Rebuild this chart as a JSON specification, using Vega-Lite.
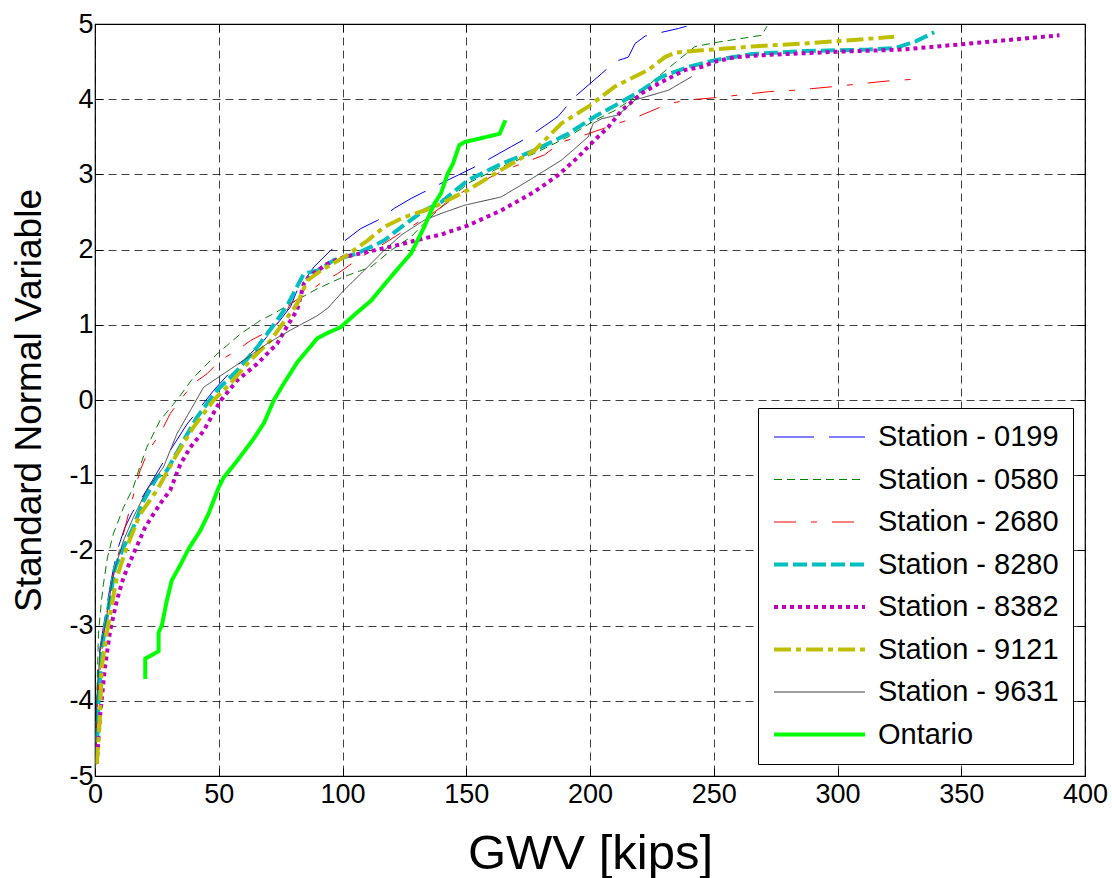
{
"$schema": "https://vega.github.io/schema/vega-lite/v6.json",
"width": 990, "height": 752,
"autosize": "none",
"padding": {"left": 95, "top": 24, "right": 27, "bottom": 102},
"background": "white",
"config": {
  "font": "Liberation Sans",
  "view": {"stroke": "black", "strokeWidth": 1.2},
  "legend": {"orient": "bottom-right", "offset": 12, "padding": 14, "strokeColor": "black", "fillColor": "white", "labelFontSize": 29, "labelFont": "Liberation Sans", "labelColor": "black", "labelLimit": 400, "symbolType": "stroke", "symbolSize": 8281, "clipHeight": 30, "rowPadding": 12.5, "labelOffset": 11, "cornerRadius": 0}
},
"data": {"values": [
{"s":"Station - 0199","x":0.3,"y":-4.85},{"s":"Station - 0199","x":0.8,"y":-4.0},{"s":"Station - 0199","x":2,"y":-3.3},{"s":"Station - 0199","x":4,"y":-2.9},{"s":"Station - 0199","x":6.5,"y":-2.4},{"s":"Station - 0199","x":9,"y":-2.0},{"s":"Station - 0199","x":12,"y":-1.7},{"s":"Station - 0199","x":15,"y":-1.5},{"s":"Station - 0199","x":18.2,"y":-1.34},{"s":"Station - 0199","x":22.3,"y":-1.12},{"s":"Station - 0199","x":30.4,"y":-0.67},{"s":"Station - 0199","x":37.2,"y":-0.32},{"s":"Station - 0199","x":43,"y":-0.08},{"s":"Station - 0199","x":48,"y":0.13},{"s":"Station - 0199","x":56,"y":0.42},{"s":"Station - 0199","x":60.1,"y":0.53},{"s":"Station - 0199","x":68.2,"y":0.79},{"s":"Station - 0199","x":73.6,"y":1.01},{"s":"Station - 0199","x":79,"y":1.24},{"s":"Station - 0199","x":81.7,"y":1.46},{"s":"Station - 0199","x":88.5,"y":1.77},{"s":"Station - 0199","x":95.2,"y":1.99},{"s":"Station - 0199","x":101,"y":2.12},{"s":"Station - 0199","x":107.4,"y":2.28},{"s":"Station - 0199","x":114.2,"y":2.39},{"s":"Station - 0199","x":121,"y":2.55},{"s":"Station - 0199","x":127.7,"y":2.68},{"s":"Station - 0199","x":139.8,"y":2.88},{"s":"Station - 0199","x":147.9,"y":3.01},{"s":"Station - 0199","x":154.7,"y":3.12},{"s":"Station - 0199","x":168.2,"y":3.37},{"s":"Station - 0199","x":175.3,"y":3.5},{"s":"Station - 0199","x":187.1,"y":3.77},{"s":"Station - 0199","x":193.8,"y":4.03},{"s":"Station - 0199","x":204.7,"y":4.34},{"s":"Station - 0199","x":210.1,"y":4.5},{"s":"Station - 0199","x":215.5,"y":4.56},{"s":"Station - 0199","x":218.2,"y":4.74},{"s":"Station - 0199","x":222.3,"y":4.84},{"s":"Station - 0199","x":235.7,"y":4.94},{"s":"Station - 0199","x":239,"y":4.97},
{"s":"Station - 0580","x":0.2,"y":-4.9},{"s":"Station - 0580","x":0.7,"y":-4.0},{"s":"Station - 0580","x":1.4,"y":-3.11},{"s":"Station - 0580","x":2.5,"y":-2.7},{"s":"Station - 0580","x":3.4,"y":-2.45},{"s":"Station - 0580","x":5,"y":-2.1},{"s":"Station - 0580","x":7.4,"y":-1.78},{"s":"Station - 0580","x":11.5,"y":-1.43},{"s":"Station - 0580","x":15.5,"y":-1.16},{"s":"Station - 0580","x":18,"y":-0.9},{"s":"Station - 0580","x":20.9,"y":-0.63},{"s":"Station - 0580","x":26.3,"y":-0.27},{"s":"Station - 0580","x":33.1,"y":0.0},{"s":"Station - 0580","x":39.8,"y":0.3},{"s":"Station - 0580","x":49.3,"y":0.61},{"s":"Station - 0580","x":58.8,"y":0.88},{"s":"Station - 0580","x":66.9,"y":1.06},{"s":"Station - 0580","x":72.3,"y":1.15},{"s":"Station - 0580","x":80,"y":1.3},{"s":"Station - 0580","x":89.8,"y":1.48},{"s":"Station - 0580","x":100.6,"y":1.64},{"s":"Station - 0580","x":111.5,"y":1.77},{"s":"Station - 0580","x":119.6,"y":1.99},{"s":"Station - 0580","x":127.7,"y":2.17},{"s":"Station - 0580","x":133,"y":2.35},{"s":"Station - 0580","x":141,"y":2.6},{"s":"Station - 0580","x":150.6,"y":2.88},{"s":"Station - 0580","x":164.1,"y":3.1},{"s":"Station - 0580","x":177.6,"y":3.28},{"s":"Station - 0580","x":191.2,"y":3.5},{"s":"Station - 0580","x":202,"y":3.72},{"s":"Station - 0580","x":210.1,"y":3.85},{"s":"Station - 0580","x":218.2,"y":4.03},{"s":"Station - 0580","x":229,"y":4.34},{"s":"Station - 0580","x":235.7,"y":4.52},{"s":"Station - 0580","x":242.4,"y":4.7},{"s":"Station - 0580","x":251.9,"y":4.76},{"s":"Station - 0580","x":269.4,"y":4.85},{"s":"Station - 0580","x":271.5,"y":4.97},
{"s":"Station - 2680","x":0.3,"y":-4.85},{"s":"Station - 2680","x":1,"y":-4.0},{"s":"Station - 2680","x":2.5,"y":-3.4},{"s":"Station - 2680","x":4,"y":-3.0},{"s":"Station - 2680","x":6.1,"y":-2.54},{"s":"Station - 2680","x":10.1,"y":-1.96},{"s":"Station - 2680","x":14.2,"y":-1.43},{"s":"Station - 2680","x":18.2,"y":-0.94},{"s":"Station - 2680","x":21.6,"y":-0.67},{"s":"Station - 2680","x":26.3,"y":-0.45},{"s":"Station - 2680","x":30.4,"y":-0.18},{"s":"Station - 2680","x":34.4,"y":0.0},{"s":"Station - 2680","x":39.8,"y":0.22},{"s":"Station - 2680","x":45.3,"y":0.35},{"s":"Station - 2680","x":50.7,"y":0.53},{"s":"Station - 2680","x":57.4,"y":0.66},{"s":"Station - 2680","x":62.8,"y":0.79},{"s":"Station - 2680","x":70.9,"y":0.93},{"s":"Station - 2680","x":76,"y":1.1},{"s":"Station - 2680","x":79,"y":1.28},{"s":"Station - 2680","x":84.4,"y":1.39},{"s":"Station - 2680","x":91,"y":1.55},{"s":"Station - 2680","x":98,"y":1.68},{"s":"Station - 2680","x":107.4,"y":1.9},{"s":"Station - 2680","x":116.8,"y":2.08},{"s":"Station - 2680","x":124.9,"y":2.25},{"s":"Station - 2680","x":135,"y":2.45},{"s":"Station - 2680","x":150,"y":2.8},{"s":"Station - 2680","x":165,"y":3.05},{"s":"Station - 2680","x":181.6,"y":3.26},{"s":"Station - 2680","x":188.5,"y":3.43},{"s":"Station - 2680","x":199.3,"y":3.54},{"s":"Station - 2680","x":211.4,"y":3.68},{"s":"Station - 2680","x":219.5,"y":3.77},{"s":"Station - 2680","x":231.7,"y":3.94},{"s":"Station - 2680","x":239.8,"y":3.99},{"s":"Station - 2680","x":250.6,"y":4.02},{"s":"Station - 2680","x":272.2,"y":4.1},{"s":"Station - 2680","x":283,"y":4.12},{"s":"Station - 2680","x":299.2,"y":4.17},{"s":"Station - 2680","x":319.5,"y":4.24},{"s":"Station - 2680","x":333,"y":4.27},
{"s":"Station - 8280","x":0.7,"y":-4.8},{"s":"Station - 8280","x":1.4,"y":-4.0},{"s":"Station - 8280","x":2.7,"y":-3.34},{"s":"Station - 8280","x":4,"y":-3.03},{"s":"Station - 8280","x":6.1,"y":-2.63},{"s":"Station - 8280","x":8.1,"y":-2.23},{"s":"Station - 8280","x":11.5,"y":-1.96},{"s":"Station - 8280","x":15.5,"y":-1.69},{"s":"Station - 8280","x":19.6,"y":-1.34},{"s":"Station - 8280","x":25,"y":-1.03},{"s":"Station - 8280","x":29,"y":-0.94},{"s":"Station - 8280","x":35.8,"y":-0.54},{"s":"Station - 8280","x":41.2,"y":-0.23},{"s":"Station - 8280","x":49.3,"y":0.13},{"s":"Station - 8280","x":57.4,"y":0.39},{"s":"Station - 8280","x":65.5,"y":0.7},{"s":"Station - 8280","x":73.6,"y":1.06},{"s":"Station - 8280","x":77.7,"y":1.26},{"s":"Station - 8280","x":84.4,"y":1.68},{"s":"Station - 8280","x":89.8,"y":1.72},{"s":"Station - 8280","x":96.6,"y":1.86},{"s":"Station - 8280","x":106,"y":1.95},{"s":"Station - 8280","x":116.8,"y":2.12},{"s":"Station - 8280","x":124.9,"y":2.33},{"s":"Station - 8280","x":133,"y":2.52},{"s":"Station - 8280","x":139.8,"y":2.63},{"s":"Station - 8280","x":150.6,"y":2.92},{"s":"Station - 8280","x":164.1,"y":3.14},{"s":"Station - 8280","x":177.6,"y":3.32},{"s":"Station - 8280","x":191.2,"y":3.54},{"s":"Station - 8280","x":202,"y":3.77},{"s":"Station - 8280","x":211.4,"y":3.94},{"s":"Station - 8280","x":220.9,"y":4.12},{"s":"Station - 8280","x":229,"y":4.3},{"s":"Station - 8280","x":239.8,"y":4.43},{"s":"Station - 8280","x":250.6,"y":4.52},{"s":"Station - 8280","x":265.4,"y":4.6},{"s":"Station - 8280","x":285.7,"y":4.64},{"s":"Station - 8280","x":312.7,"y":4.66},{"s":"Station - 8280","x":323.5,"y":4.68},{"s":"Station - 8280","x":331.6,"y":4.77},{"s":"Station - 8280","x":339.1,"y":4.89},
{"s":"Station - 8382","x":0.7,"y":-4.84},{"s":"Station - 8382","x":2,"y":-4.22},{"s":"Station - 8382","x":4,"y":-3.56},{"s":"Station - 8382","x":6.1,"y":-3.07},{"s":"Station - 8382","x":8.8,"y":-2.67},{"s":"Station - 8382","x":11.5,"y":-2.36},{"s":"Station - 8382","x":15.5,"y":-2.05},{"s":"Station - 8382","x":20.3,"y":-1.69},{"s":"Station - 8382","x":26.3,"y":-1.38},{"s":"Station - 8382","x":30.4,"y":-1.2},{"s":"Station - 8382","x":34.4,"y":-0.86},{"s":"Station - 8382","x":38.5,"y":-0.63},{"s":"Station - 8382","x":43.9,"y":-0.41},{"s":"Station - 8382","x":50.7,"y":-0.01},{"s":"Station - 8382","x":57.4,"y":0.26},{"s":"Station - 8382","x":65.5,"y":0.48},{"s":"Station - 8382","x":73.6,"y":0.75},{"s":"Station - 8382","x":78,"y":1.0},{"s":"Station - 8382","x":81.7,"y":1.2},{"s":"Station - 8382","x":84.4,"y":1.55},{"s":"Station - 8382","x":88,"y":1.68},{"s":"Station - 8382","x":93.9,"y":1.81},{"s":"Station - 8382","x":100.6,"y":1.9},{"s":"Station - 8382","x":112.8,"y":1.99},{"s":"Station - 8382","x":123.6,"y":2.07},{"s":"Station - 8382","x":133,"y":2.15},{"s":"Station - 8382","x":139.8,"y":2.2},{"s":"Station - 8382","x":150.6,"y":2.32},{"s":"Station - 8382","x":164.1,"y":2.52},{"s":"Station - 8382","x":177.6,"y":2.77},{"s":"Station - 8382","x":187.1,"y":2.99},{"s":"Station - 8382","x":195.2,"y":3.23},{"s":"Station - 8382","x":202,"y":3.46},{"s":"Station - 8382","x":207.4,"y":3.63},{"s":"Station - 8382","x":212.8,"y":3.85},{"s":"Station - 8382","x":220.9,"y":4.08},{"s":"Station - 8382","x":229,"y":4.23},{"s":"Station - 8382","x":238.5,"y":4.39},{"s":"Station - 8382","x":245.2,"y":4.43},{"s":"Station - 8382","x":250.6,"y":4.5},{"s":"Station - 8382","x":258.7,"y":4.56},{"s":"Station - 8382","x":272.2,"y":4.59},{"s":"Station - 8382","x":299.2,"y":4.63},{"s":"Station - 8382","x":326.2,"y":4.66},{"s":"Station - 8382","x":353.3,"y":4.74},{"s":"Station - 8382","x":389.7,"y":4.85},
{"s":"Station - 9121","x":0.7,"y":-4.84},{"s":"Station - 9121","x":2,"y":-4.22},{"s":"Station - 9121","x":2.7,"y":-3.56},{"s":"Station - 9121","x":4.7,"y":-3.11},{"s":"Station - 9121","x":6.1,"y":-2.85},{"s":"Station - 9121","x":8.8,"y":-2.36},{"s":"Station - 9121","x":12.8,"y":-1.96},{"s":"Station - 9121","x":18.2,"y":-1.52},{"s":"Station - 9121","x":25,"y":-1.2},{"s":"Station - 9121","x":33.1,"y":-0.72},{"s":"Station - 9121","x":39.8,"y":-0.36},{"s":"Station - 9121","x":48,"y":0.0},{"s":"Station - 9121","x":54.7,"y":0.22},{"s":"Station - 9121","x":62.8,"y":0.53},{"s":"Station - 9121","x":70.9,"y":0.79},{"s":"Station - 9121","x":77.7,"y":1.1},{"s":"Station - 9121","x":81.7,"y":1.28},{"s":"Station - 9121","x":85.8,"y":1.59},{"s":"Station - 9121","x":91.2,"y":1.72},{"s":"Station - 9121","x":100.6,"y":1.9},{"s":"Station - 9121","x":110.1,"y":2.12},{"s":"Station - 9121","x":116.8,"y":2.3},{"s":"Station - 9121","x":124.9,"y":2.43},{"s":"Station - 9121","x":133,"y":2.52},{"s":"Station - 9121","x":138.5,"y":2.59},{"s":"Station - 9121","x":150.6,"y":2.79},{"s":"Station - 9121","x":164.1,"y":3.06},{"s":"Station - 9121","x":177.6,"y":3.32},{"s":"Station - 9121","x":188.5,"y":3.68},{"s":"Station - 9121","x":199.3,"y":3.9},{"s":"Station - 9121","x":210.1,"y":4.17},{"s":"Station - 9121","x":223.6,"y":4.39},{"s":"Station - 9121","x":230.3,"y":4.56},{"s":"Station - 9121","x":234.4,"y":4.62},{"s":"Station - 9121","x":245.2,"y":4.65},{"s":"Station - 9121","x":265.4,"y":4.7},{"s":"Station - 9121","x":285.7,"y":4.74},{"s":"Station - 9121","x":299.2,"y":4.77},{"s":"Station - 9121","x":322.9,"y":4.83},
{"s":"Station - 9631","x":0,"y":-4.89},{"s":"Station - 9631","x":0.7,"y":-4.0},{"s":"Station - 9631","x":2,"y":-3.34},{"s":"Station - 9631","x":4.7,"y":-2.89},{"s":"Station - 9631","x":7.4,"y":-2.31},{"s":"Station - 9631","x":11.5,"y":-1.87},{"s":"Station - 9631","x":15.5,"y":-1.56},{"s":"Station - 9631","x":20.9,"y":-1.2},{"s":"Station - 9631","x":27.7,"y":-0.89},{"s":"Station - 9631","x":33.1,"y":-0.45},{"s":"Station - 9631","x":38.5,"y":-0.14},{"s":"Station - 9631","x":43.9,"y":0.17},{"s":"Station - 9631","x":52,"y":0.35},{"s":"Station - 9631","x":60.1,"y":0.53},{"s":"Station - 9631","x":69.6,"y":0.75},{"s":"Station - 9631","x":79,"y":0.93},{"s":"Station - 9631","x":89.8,"y":1.12},{"s":"Station - 9631","x":94,"y":1.22},{"s":"Station - 9631","x":100.6,"y":1.46},{"s":"Station - 9631","x":108.7,"y":1.72},{"s":"Station - 9631","x":116.8,"y":1.99},{"s":"Station - 9631","x":124,"y":2.2},{"s":"Station - 9631","x":133,"y":2.39},{"s":"Station - 9631","x":139.8,"y":2.48},{"s":"Station - 9631","x":149.3,"y":2.59},{"s":"Station - 9631","x":164.1,"y":2.7},{"s":"Station - 9631","x":175.3,"y":2.92},{"s":"Station - 9631","x":188.5,"y":3.19},{"s":"Station - 9631","x":199.3,"y":3.5},{"s":"Station - 9631","x":201.3,"y":3.68},{"s":"Station - 9631","x":204.7,"y":3.74},{"s":"Station - 9631","x":211.4,"y":3.79},{"s":"Station - 9631","x":218.2,"y":3.99},{"s":"Station - 9631","x":231.7,"y":4.12},{"s":"Station - 9631","x":241.1,"y":4.3},
{"s":"Ontario","x":20.3,"y":-3.71},{"s":"Ontario","x":20.3,"y":-3.44},{"s":"Ontario","x":25.7,"y":-3.34},{"s":"Ontario","x":25.7,"y":-3.09},{"s":"Ontario","x":27,"y":-3.0},{"s":"Ontario","x":29,"y":-2.67},{"s":"Ontario","x":31,"y":-2.4},{"s":"Ontario","x":34.4,"y":-2.2},{"s":"Ontario","x":37.8,"y":-1.98},{"s":"Ontario","x":42.5,"y":-1.74},{"s":"Ontario","x":45.9,"y":-1.51},{"s":"Ontario","x":50,"y":-1.16},{"s":"Ontario","x":52,"y":-1.03},{"s":"Ontario","x":57.4,"y":-0.81},{"s":"Ontario","x":64.2,"y":-0.51},{"s":"Ontario","x":68.2,"y":-0.31},{"s":"Ontario","x":72.3,"y":0.0},{"s":"Ontario","x":76.3,"y":0.22},{"s":"Ontario","x":81.7,"y":0.5},{"s":"Ontario","x":89.8,"y":0.82},{"s":"Ontario","x":93.9,"y":0.89},{"s":"Ontario","x":99.3,"y":0.97},{"s":"Ontario","x":105.4,"y":1.15},{"s":"Ontario","x":111.5,"y":1.32},{"s":"Ontario","x":119.6,"y":1.64},{"s":"Ontario","x":127.7,"y":1.95},{"s":"Ontario","x":133,"y":2.3},{"s":"Ontario","x":137.1,"y":2.61},{"s":"Ontario","x":139.8,"y":2.75},{"s":"Ontario","x":142.5,"y":3.01},{"s":"Ontario","x":144.6,"y":3.14},{"s":"Ontario","x":147.2,"y":3.39},{"s":"Ontario","x":149.3,"y":3.43},{"s":"Ontario","x":163.5,"y":3.54},{"s":"Ontario","x":165.8,"y":3.72}
]},
"resolve": {"axis": {"x": "independent", "y": "independent"}},
"layer": [
{
  "mark": {"type": "line", "clip": true, "strokeCap": "butt"},
  "encoding": {
    "x": {"field": "x", "type": "quantitative", "scale": {"domain": [0, 400], "nice": false, "zero": false},
      "axis": {"orient": "bottom", "values": [0,50,100,150,200,250,300,350,400], "grid": true, "gridDash": [8,5], "gridColor": "#000000", "gridOpacity": 0.75, "gridWidth": 1, "domain": false, "ticks": true, "tickSize": -8, "tickColor": "#000000", "tickWidth": 1, "labelFontSize": 27, "labelColor": "#000000", "labelPadding": 13, "labelFont": "Liberation Sans", "labelExpr": "toString(datum.value)", "labelFlush": false, "title": "GWV [kips]", "titleFontSize": 49, "titleFontWeight": "normal", "titleFont": "Liberation Sans", "titleColor": "#000000", "titleBaseline": "alphabetic", "titleY": 92}},
    "y": {"field": "y", "type": "quantitative", "scale": {"domain": [-5, 5], "nice": false, "zero": false},
      "axis": {"orient": "left", "values": [-5,-4,-3,-2,-1,0,1,2,3,4,5], "grid": true, "gridDash": [8,5], "gridColor": "#000000", "gridOpacity": 0.75, "gridWidth": 1, "domain": false, "ticks": true, "tickSize": -8, "tickColor": "#000000", "tickWidth": 1, "labelFontSize": 27, "labelColor": "#000000", "labelPadding": 10, "labelFont": "Liberation Sans", "labelExpr": "toString(datum.value)", "labelFlush": false, "title": "Standard Normal Variable", "titleFontSize": 37, "titleFontWeight": "normal", "titleFont": "Liberation Sans", "titleColor": "#000000", "titleBaseline": "alphabetic", "titleAngle": 270, "titleX": -55, "titleY": 376, "titleAlign": "center"}},
    "order": {"field": "y", "type": "quantitative"},
    "color": {"field": "s", "type": "nominal", "title": null,
      "scale": {"domain": ["Station - 0199","Station - 0580","Station - 2680","Station - 8280","Station - 8382","Station - 9121","Station - 9631","Ontario"],
                "range": ["#0000FF","#008000","#FF0000","#00BFBF","#BF00BF","#BFBF00","#404040","#00FF00"]}},
    "strokeDash": {"field": "s", "type": "nominal", "title": null,
      "scale": {"domain": ["Station - 0199","Station - 0580","Station - 2680","Station - 8280","Station - 8382","Station - 9121","Station - 9631","Ontario"],
                "range": [[40,15],[8,5],[22,15,6,15],[14,5],[4,4],[17,5,5,5],[1,0],[1,0]]}},
    "strokeWidth": {"field": "s", "type": "nominal", "title": null,
      "scale": {"type": "ordinal", "domain": ["Station - 0199","Station - 0580","Station - 2680","Station - 8280","Station - 8382","Station - 9121","Station - 9631","Ontario"],
                "range": [1,1,1,4,4,4,1,4]}}
  }
},
{
  "mark": {"type": "line", "strokeOpacity": 0},
  "encoding": {
    "x": {"field": "x", "type": "quantitative", "axis": {"orient": "top", "values": [0,50,100,150,200,250,300,350,400], "grid": false, "domain": false, "labels": false, "tickSize": -8, "tickColor": "#000000", "title": null}},
    "y": {"field": "y", "type": "quantitative", "axis": {"orient": "right", "values": [-5,-4,-3,-2,-1,0,1,2,3,4,5], "grid": false, "domain": false, "labels": false, "tickSize": -8, "tickColor": "#000000", "title": null}},
    "detail": {"field": "s"}
  }
}
]
}
